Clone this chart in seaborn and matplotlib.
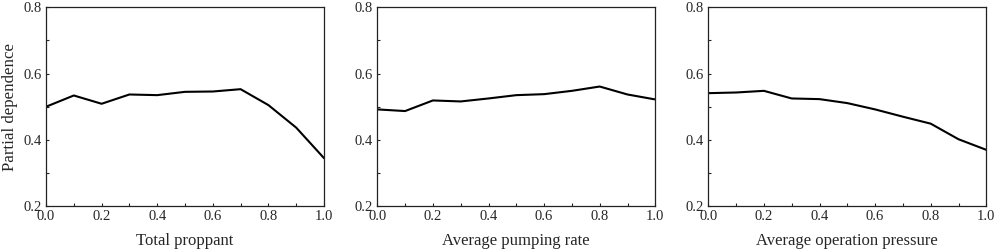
import matplotlib
matplotlib.use("Agg")
import matplotlib.pyplot as plt
import seaborn as sns
import pandas as pd
from matplotlib.ticker import MultipleLocator

sns.set_theme(style="white")
plt.rcParams['font.family'] = ['Liberation Serif', 'DejaVu Serif']
plt.rcParams['mathtext.fontset'] = 'stix'

x_vals = [0.0, 0.1, 0.2, 0.3, 0.4, 0.5, 0.6, 0.7, 0.8, 0.9, 1.0]
total_proppant = [0.500, 0.534, 0.509, 0.537, 0.535, 0.545, 0.546, 0.553, 0.505, 0.437, 0.345]
avg_pumping_rate = [0.492, 0.487, 0.519, 0.516, 0.525, 0.535, 0.538, 0.548, 0.561, 0.537, 0.522]
avg_operation_pressure = [0.541, 0.543, 0.548, 0.525, 0.523, 0.511, 0.492, 0.470, 0.449, 0.402, 0.370]
xlabels = ["Total proppant", "Average pumping rate", "Average operation pressure"]
ylabel = "Partial dependence"

series = [total_proppant, avg_pumping_rate, avg_operation_pressure]

fig = plt.figure(figsize=(9.96, 2.52), dpi=100)
lefts = [46 / 996, 377.3 / 996, 708.3 / 996]
width = 278 / 996
bottom = 1 - 206.2 / 252
height = (206.2 - 7.3) / 252

for i, (vals, xl) in enumerate(zip(series, xlabels)):
    ax = fig.add_axes([lefts[i], bottom, width, height])
    df = pd.DataFrame({"x": x_vals, "y": vals})
    sns.lineplot(data=df, x="x", y="y", ax=ax, color="black", linewidth=1.5)
    ax.set_xlim(0, 1.0)
    ax.set_ylim(0.2, 0.8)
    ax.xaxis.set_major_locator(MultipleLocator(0.2))
    ax.xaxis.set_minor_locator(MultipleLocator(0.1))
    ax.yaxis.set_major_locator(MultipleLocator(0.2))
    ax.yaxis.set_minor_locator(MultipleLocator(0.1))
    ax.tick_params(which="major", direction="in", length=2.5, width=0.8,
                   labelsize=10.5, pad=3.0, bottom=True, left=True, top=False, right=False)
    ax.tick_params(which="minor", direction="in", length=2, width=0.8,
                   bottom=True, left=True, top=False, right=False)
    ax.set_xticklabels([f"{t:.1f}" for t in ax.get_xticks()])
    ax.set_yticklabels([f"{t:.1f}" for t in ax.get_yticks()])
    for s in ax.spines.values():
        s.set_color("#222222")
        s.set_linewidth(0.9)
        s.set_visible(True)
    ax.set_xlabel(xl, fontsize=12, labelpad=7)
    if i == 0:
        ax.set_ylabel(ylabel, fontsize=12.2, labelpad=4)
    else:
        ax.set_ylabel("")

fig.savefig("out.png", dpi=100)
